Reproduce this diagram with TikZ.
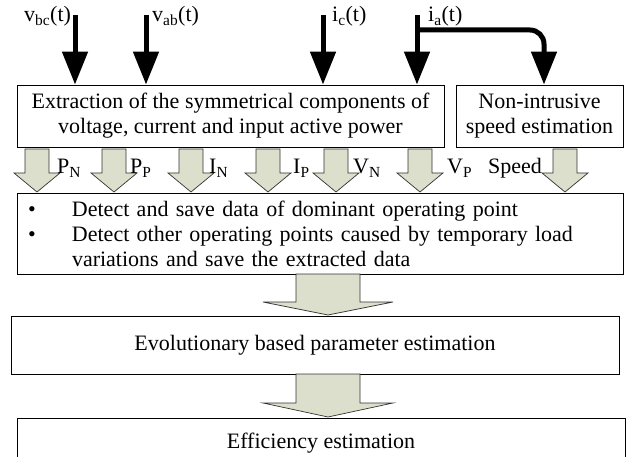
\documentclass[tikz,border=0pt]{standalone}
\usepackage{fontspec}
\setmainfont{Liberation Serif}
\usetikzlibrary{arrows.meta}
\definecolor{arrfill}{RGB}{220,223,203}
\newcommand\hollowarrow[6]{%
  \draw[hol] ({#1-#5},#2) -- ({#1+#5},#2) -- ({#1+#5},#3) -- ({#1+#6},#3) -- (#1,#4) -- ({#1-#6},#3) -- ({#1-#5},#3) -- cycle;}
\begin{document}
\begin{tikzpicture}[x=1pt,y=-1pt,
  font=\fontsize{22}{25}\selectfont,
  box/.style={draw=black, line width=0.9pt, inner sep=0pt, align=center},
  blk/.style={line width=5pt, -{Triangle[width=25pt,length=33pt]}},
  hol/.style={draw=black!80, line width=0.7pt, fill=arrfill, line join=miter},
  lab/.style={anchor=base west, inner sep=0pt}]
\useasboundingbox (0,0) rectangle (634,457);

% boxes
\node[box, minimum width=427pt, minimum height=62pt] (ext) at (230.5,116)
  {Extraction of the symmetrical components of\\voltage, current and input active power};
\node[box, minimum width=167pt, minimum height=62pt] (spd) at (539.5,116)
  {Non-intrusive\\speed estimation};
\node[box, minimum width=606pt, minimum height=81pt, text width=584pt, align=left, inner xsep=11pt] (det) at (320,233.5)
  {\makebox[44pt][l]{\textbullet}Detect and save data of dominant operating point\\
   \makebox[44pt][l]{\textbullet}Detect other operating points caused by temporary load\\
   \hspace*{44pt}variations and save the extracted data};
\node[box, minimum width=608pt, minimum height=58pt] (evo) at (315,345)
  {Evolutionary based parameter estimation};
\node[box, minimum width=608pt, minimum height=50pt] (eff) at (321,443)
  {Efficiency estimation};

% input signals
\coordinate (vbc) at (75,15);
\coordinate (vab) at (146,15);
\coordinate (ic) at (323,15);
\coordinate (ia) at (417,15);
\coordinate (iab) at (417,30);
\coordinate (spdin) at (544,30);
\draw[blk] (vbc) -- (vbc |- ext.north);
\draw[blk] (vab) -- (vab |- ext.north);
\draw[blk] (ic) -- (ic |- ext.north);
\draw[blk] (ia) -- (ia |- ext.north);
\draw[blk, rounded corners=14pt] (iab) -- (spdin) -- (spdin |- spd.north);

\node[lab] (lvbc) at (24,22) {v\textsubscript{bc}(t)};
\node[lab] (lvab) at (152,22) {v\textsubscript{ab}(t)};
\node[lab] (lic) at (332,22) {i\textsubscript{c}(t)};
\node[lab] (lia) at (428,22) {i\textsubscript{a}(t)};

% hollow arrows between box rows
\hollowarrow{37}{149}{173}{192}{12}{23}
\hollowarrow{114}{149}{173}{192}{12}{23}
\hollowarrow{191}{149}{173}{192}{12}{23}
\hollowarrow{268}{149}{173}{192}{12}{23}
\hollowarrow{336}{149}{173}{192}{12}{23}
\hollowarrow{420}{149}{173}{192}{12}{23}
\hollowarrow{565}{149}{173}{192}{12}{23}

\node[lab] (lpn) at (57,174) {P\textsubscript{N}};
\node[lab] (lpp) at (130,174) {P\textsubscript{P}};
\node[lab] (lin) at (209,174) {I\textsubscript{N}};
\node[lab] (lip) at (293,174) {I\textsubscript{P}};
\node[lab] (lvn) at (353,174) {V\textsubscript{N}};
\node[lab] (lvp) at (447,174) {V\textsubscript{P}};
\node[lab] (lsp) at (488,174) {Speed};

\hollowarrow{328}{274}{302}{315}{32}{65}
\hollowarrow{328}{374}{403}{417}{32}{65}
\end{tikzpicture}
\end{document}
